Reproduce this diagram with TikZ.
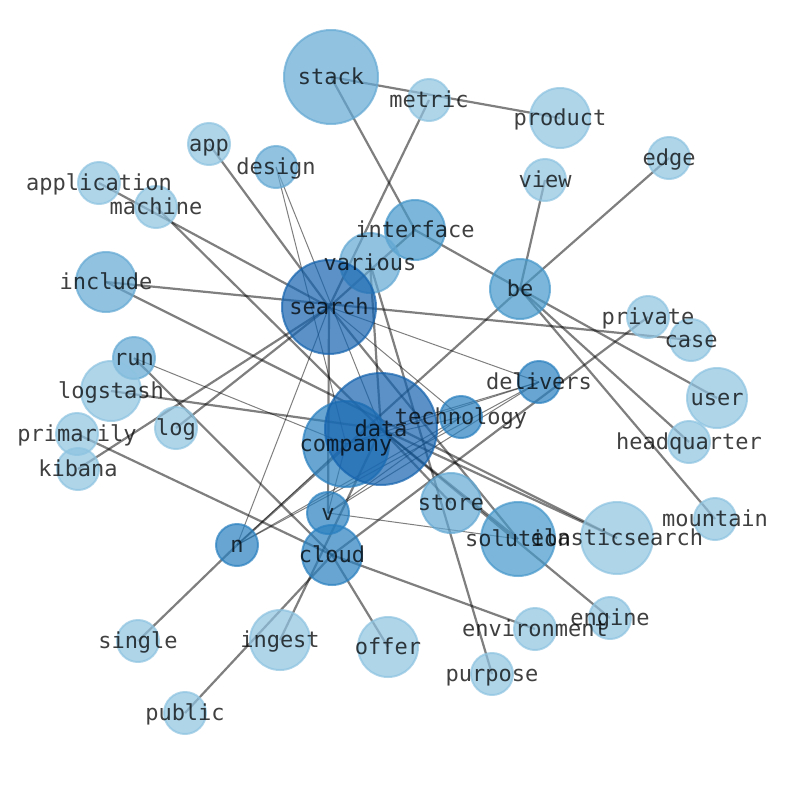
\documentclass[tikz,border=0pt]{standalone}
\usepackage{fontspec}
\setmonofont{DejaVu Sans Mono}
\pgfdeclarelayer{background}
\pgfsetlayers{background,main}
\definecolor{ca}{HTML}{8DC3E0}
\definecolor{cb}{HTML}{63A8D3}
\definecolor{cc}{HTML}{4597CA}
\definecolor{cd}{HTML}{297FBF}
\definecolor{ce}{HTML}{1563AE}
\tikzset{
  vert/.style={circle, inner sep=0pt, line width=2pt, fill opacity=0.7, draw opacity=0.7},
  va/.style={vert, fill=ca, draw=ca},
  vb/.style={vert, fill=cb, draw=cb},
  vc/.style={vert, fill=cc, draw=cc},
  vd/.style={vert, fill=cd, draw=cd},
  ve/.style={vert, fill=ce, draw=ce},
  lbl/.style={text=black, text opacity=0.75, font=\ttfamily\fontsize{22}{22}\selectfont,
    inner sep=0pt, text height=18pt, text depth=4pt},
  thk/.style={draw=black, draw opacity=0.5, line width=2.2pt},
  thn/.style={draw=black, draw opacity=0.5, line width=1pt},
}
\begin{document}
\begin{tikzpicture}[x=1pt,y=-1pt]
\useasboundingbox (0,0) rectangle (794,790);
% nodes: name/x/y/r/style
\foreach \n/\x/\y/\r/\s in {
 stack/331/77/47/vb, metric/429/100/21/va, product/560/118/30/va, app/209/144/21/va,
 design/276/167/21/vb, application/99/183/21/va, machine/156/207/21/va, edge/669/158/21/va,
 view/545/180/21/va, interface/415/230/30/vc, various/370/263/30/vb, include/106/282/30/vb,
 search/329/307/47/ve, be/520/289/30/vc, private/648/317/21/va, case/691/340/21/va,
 run/134/358/21/vb, logstash/111/391/30/va, delivers/539/382/21/vd, user/717/398/30/va,
 log/176/428/21/va, primarily/77/434/21/va, company/346/444/43/vd, data/381/429/56/ve,
 technology/461/417/21/vd, headquarter/689/442/21/va, kibana/78/469/21/va, store/451/503/30/vb,
 v/328/513/21/vd, mountain/715/519/21/va, elasticsearch/617/538/36/va, solution/518/539/37/vc,
 n/237/545/21/vd, cloud/332/555/30/vd, engine/610/618/21/va, environment/535/629/21/va,
 single/138/641/21/va, ingest/280/640/30/va, offer/388/647/30/va, purpose/492/674/21/va,
 public/185/713/21/va}
 { \node[\s, minimum size=2*\r pt] (\n) at (\x,\y) {}; }
% labels
\foreach \n in {stack,metric,product,app,design,application,machine,edge,view,interface,various,include,
 search,be,private,case,run,logstash,delivers,user,log,primarily,company,data,technology,headquarter,
 kibana,store,v,mountain,elasticsearch,solution,n,cloud,engine,environment,single,ingest,offer,purpose,public}
 { \node[lbl] (t-\n) at (\n.center) {\n}; }
\begin{pgfonlayer}{background}
% thick edges
\foreach \a/\b in {stack/product, stack/interface, metric/search, application/search, machine/data,
 app/search, include/elasticsearch, include/case, interface/be, search/interface, view/be, edge/be,
 be/user, be/headquarter, be/mountain, n/be, single/n, private/cloud, run/cloud, logstash/data,
 primarily/cloud, kibana/search, log/search, data/elasticsearch, data/engine, cloud/environment,
 various/purpose, various/data, ingest/data, offer/cloud, public/cloud, search/v, data/solution,
 data/store, search/solution}
 { \draw[thk] (\a.center) -- (\b.center); }
% thin edges
\foreach \a/\b in {design/company, design/data, run/company, search/delivers, n/search, v/solution,
 delivers/n, delivers/v, delivers/company, delivers/data, technology/n, technology/v, technology/company,
 n/company, v/company, search/technology}
 { \draw[thn] (\a.center) -- (\b.center); }
\end{pgfonlayer}
\end{tikzpicture}
\end{document}
